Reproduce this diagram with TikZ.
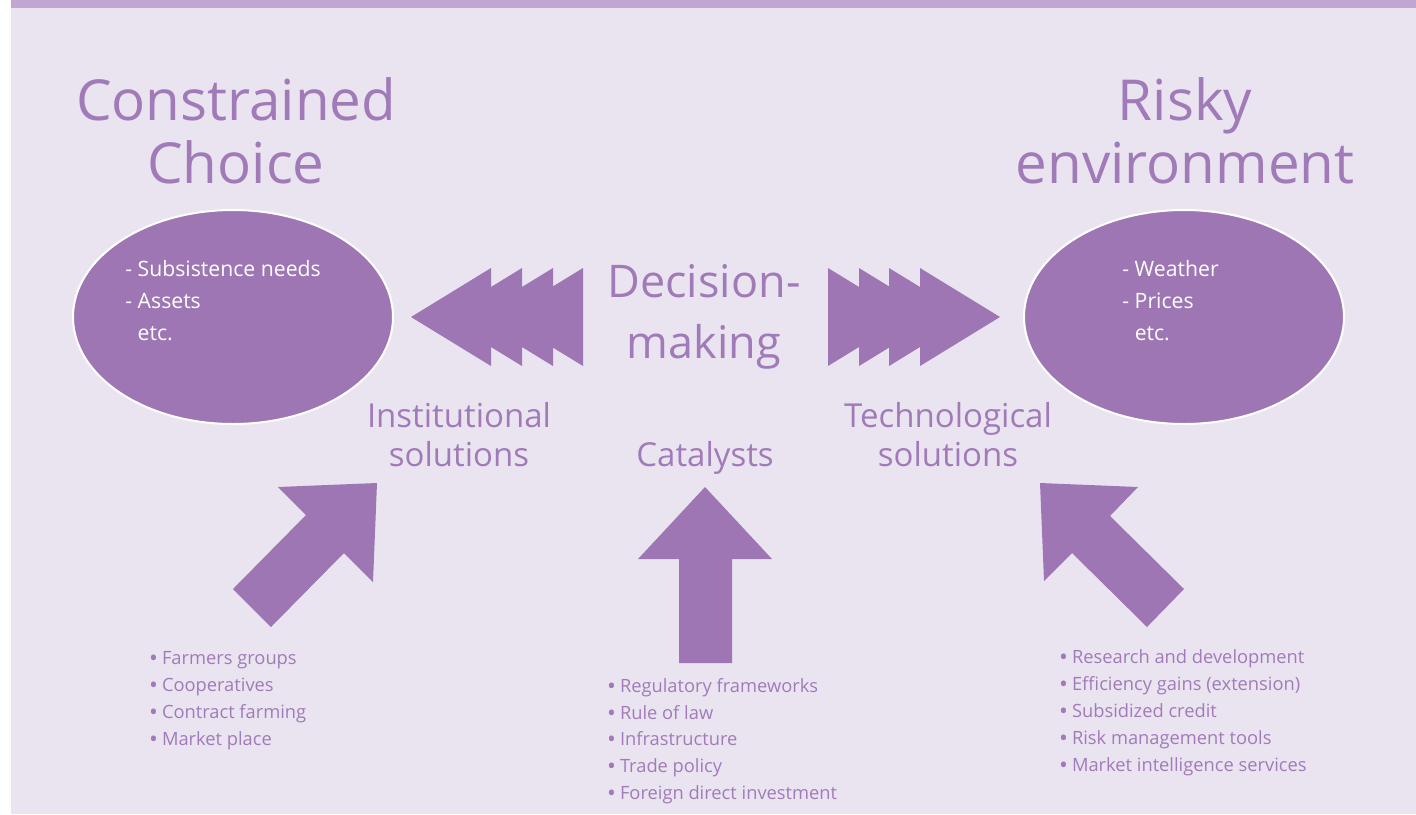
\documentclass[tikz,border=0pt]{standalone}
\usepackage{fontspec}
\setmainfont{Open Sans}
\usetikzlibrary{shapes.geometric}
\definecolor{bgc}{HTML}{EAE4F1}
\definecolor{barc}{HTML}{C0A6D1}
\definecolor{shapec}{HTML}{9E76B4}
\definecolor{textc}{HTML}{A17BB8}
\begin{document}
\begin{tikzpicture}[x=0.5pt,y=-0.5pt,
  txt/.style={inner sep=0pt, outer sep=0pt, text=textc},
  title/.style={txt, align=center, font=\fontsize{28.25pt}{31.5pt}\selectfont},
  midtitle/.style={txt, align=center, font=\fontsize{22.5pt}{30.5pt}\selectfont},
  sol/.style={txt, align=center, font=\fontsize{16.5pt}{19.5pt}\selectfont},
  blob/.style={ellipse, fill=shapec, draw=white, line width=1pt, minimum width=160pt, minimum height=107pt, inner sep=0pt},
  blobtext/.style={inner sep=0pt, text=white, align=left, font=\fontsize{10.6pt}{16pt}\selectfont},
  listtext/.style={txt, align=left, font=\fontsize{9.15pt}{13.5pt}\selectfont},
  arrowshape/.style={fill=shapec}
]
\useasboundingbox (0,0) rectangle (1416,814);
\fill[bgc] (11,0) rectangle (1416,814);
\fill[barc] (11,0) rectangle (1416,8);

% titles (anchor base = baseline of last line)
\node[title, anchor=base] (cc) at (236,183) {Constrained\\Choice};
\node[title, anchor=base] (re) at (1185,183) {Risky\\environment};
\node[midtitle, anchor=base] (dm) at (704,358) {Decision-\\making};

% ellipses
\node[blob] (lell) at (233,317) {};
\node[blob] (rell) at (1184,317) {};
\node[blobtext, anchor=base west] (ltext) at (125,340) {- Subsistence needs\\- Assets\\\hphantom{- }etc.};
\node[blobtext, anchor=base west] (rtext) at (1122,340) {- Weather\\- Prices\\\hphantom{- }etc.};

% chevron arrows
\fill[arrowshape] \foreach \b in {491,522,553,583} {(\b,268) -- ({\b-80},317) -- (\b,366) -- cycle};
\fill[arrowshape] \foreach \b in {828,859,889,920} {(\b,268) -- ({\b+80},317) -- (\b,366) -- cycle};

% solution labels
\node[sol, anchor=base] (inst) at (459,466) {Institutional\\solutions};
\node[sol, anchor=base] (cat) at (705,466) {Catalysts};
\node[sol, anchor=base] (tech) at (948,466) {Technological\\solutions};

% block arrows
\fill[arrowshape] (377,483) -- (373,582) -- (344,553) -- (271,627) -- (233,589) -- (306,515) -- (278,487) -- cycle;
\fill[arrowshape] (705,487) -- (772,559) -- (732,559) -- (732,663) -- (679,663) -- (679,559) -- (638,559) -- cycle;
\fill[arrowshape] (1040,483) -- (1138,487) -- (1110,516) -- (1184,589) -- (1147,627) -- (1072,553) -- (1044,581) -- cycle;

% lists
\newcommand{\bul}{\makebox[6pt][l]{\textbf{•}}}
\node[listtext, anchor=base west] (llist) at (150,745) {\bul Farmers groups\\\bul Cooperatives\\\bul Contract farming\\\bul Market place};
\node[listtext, anchor=base west, font=\fontsize{9.15pt}{13.3pt}\selectfont] (clist) at (608,799) {\bul Regulatory frameworks\\\bul Rule of law\\\bul Infrastructure\\\bul Trade policy\\\bul Foreign direct investment};
\node[listtext, anchor=base west, font=\fontsize{9.15pt}{13.4pt}\selectfont] (rlist) at (1060,771) {\bul Research and development\\\bul Efficiency gains (extension)\\\bul Subsidized credit\\\bul Risk management tools\\\bul Market intelligence services};
\end{tikzpicture}
\end{document}
